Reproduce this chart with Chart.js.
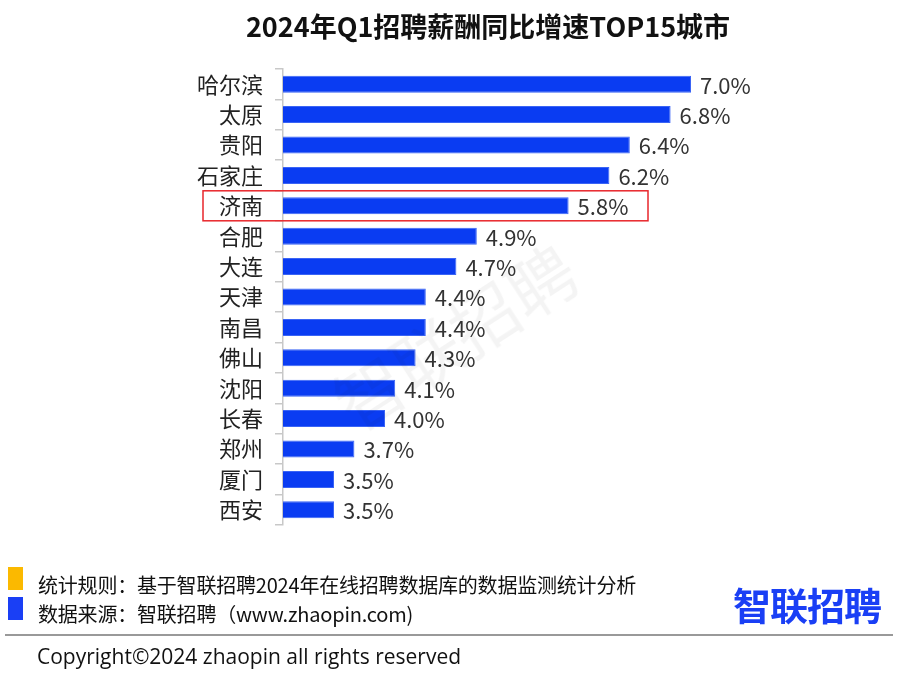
<!DOCTYPE html>
<html>
<head>
<meta charset="utf-8">
<script src="https://cdn.jsdelivr.net/npm/chart.js@4.4.1/dist/chart.umd.min.js"></script>
<style>
  body { margin: 0; background: #fff; font-family: "Noto Sans CJK SC", "Noto Sans", sans-serif; }
  #wrap { position: relative; width: 900px; height: 675px; overflow: hidden; }
  #chart { position: absolute; left: 0; top: 0; }
  .txt { position: absolute; white-space: nowrap; color: #111; }
  #title { left: 0; width: 976px; top: 6px; text-align: center; font-size: 27px; font-weight: bold; }
  #mark { left: 318px; top: 285px; font-size: 68px; color: rgba(0,0,0,0.045); transform: rotate(-33deg); }
  .sq { position: absolute; left: 8px; width: 15px; height: 23px; }
  #rule { left: 38px; top: 570px; font-size: 20px; letter-spacing: -0.2px; }
  #src { left: 38px; top: 599px; font-size: 20px; letter-spacing: -0.2px; }
  #logo { left: 733px; top: 576px; font-size: 38px; font-weight: bold; color: #1a3ff5; letter-spacing: -1px; }
  #line { position: absolute; left: 5px; width: 888px; top: 634px; height: 2px; background: #999; }
  #copy { left: 37px; top: 642px; font-size: 21px; font-family: "Open Sans", "Noto Sans", sans-serif; }
</style>
</head>
<body>
<div id="wrap">
  <canvas id="chart" width="900" height="675"></canvas>
  <div class="txt" id="mark">智联招聘</div>
  <div class="txt" id="title">2024年Q1招聘薪酬同比增速TOP15城市</div>
  <div class="sq" style="top:567px; background:#fbb900;"></div>
  <div class="sq" style="top:597px; background:#1a3ff5;"></div>
  <div class="txt" id="rule">统计规则：基于智联招聘2024年在线招聘数据库的数据监测统计分析</div>
  <div class="txt" id="src">数据来源：智联招聘（www.zhaopin.com)</div>
  <div class="txt" id="logo">智联招聘</div>
  <div id="line"></div>
  <div class="txt" id="copy">Copyright©2024 zhaopin all rights reserved</div>
</div>
<script>
// cities, top to bottom
const cities = ["哈尔滨", "太原", "贵阳", "石家庄", "济南", "合肥", "大连", "天津", "南昌", "佛山", "沈阳", "长春", "郑州", "厦门", "西安"];
// year-on-year salary growth, %
const growth = [7.0, 6.8, 6.4, 6.2, 5.8, 4.9, 4.7, 4.4, 4.4, 4.3, 4.1, 4.0, 3.7, 3.5, 3.5];
const highlightCity = "济南";

// value labels at the end of each bar
const barLabels = {
    id: "barLabels",
    afterDatasetsDraw(chart) {
        const ctx = chart.ctx;
        const meta = chart.getDatasetMeta(0);
        ctx.save();
        ctx.font = "22px 'Noto Sans CJK SC', 'Noto Sans', sans-serif";
        ctx.fillStyle = "#333";
        ctx.textAlign = "left";
        ctx.textBaseline = "middle";
        meta.data.forEach(function (bar, i) {
            ctx.fillText(growth[i].toFixed(1) + "%", bar.x + 9, bar.y + 1);
        });
        ctx.restore();
    }
};

// red frame round the highlighted row
const highlightBox = {
    id: "highlightBox",
    afterDraw(chart) {
        const y = chart.scales.y;
        const idx = cities.indexOf(highlightCity);
        const cy = y.getPixelForValue(idx);
        const ctx = chart.ctx;
        ctx.save();
        ctx.strokeStyle = "#e8262b";
        ctx.lineWidth = 1.5;
        ctx.strokeRect(203, cy - 15, 445, 30);
        ctx.restore();
    }
};

new Chart(document.getElementById("chart"), {
    type: "bar",
    data: {
        labels: cities,
        datasets: [{
            data: growth,
            backgroundColor: "#0a3cf2",
            borderColor: "#3a64f5",
            borderWidth: 1,
            categoryPercentage: 0.56,
            barPercentage: 1.0
        }]
    },
    options: {
        indexAxis: "y",
        responsive: false,
        animation: false,
        layout: { padding: { top: 69, bottom: 150, left: 0, right: 107 } },
        plugins: { legend: { display: false }, tooltip: { enabled: false } },
        scales: {
            x: { display: false, min: 3, max: 8 },
            y: {
                afterFit: function (scale) { scale.width = 283; },
                border: { color: "#c8c8c8", width: 1.5 },
                grid: { drawOnChartArea: false, offset: true, tickLength: 8, color: "#c8c8c8", lineWidth: 1.5 },
                ticks: { color: "#222", padding: 12, font: { size: 22, family: "'Noto Sans CJK SC', sans-serif" } }
            }
        }
    },
    plugins: [barLabels, highlightBox]
});
</script>
</body>
</html>
